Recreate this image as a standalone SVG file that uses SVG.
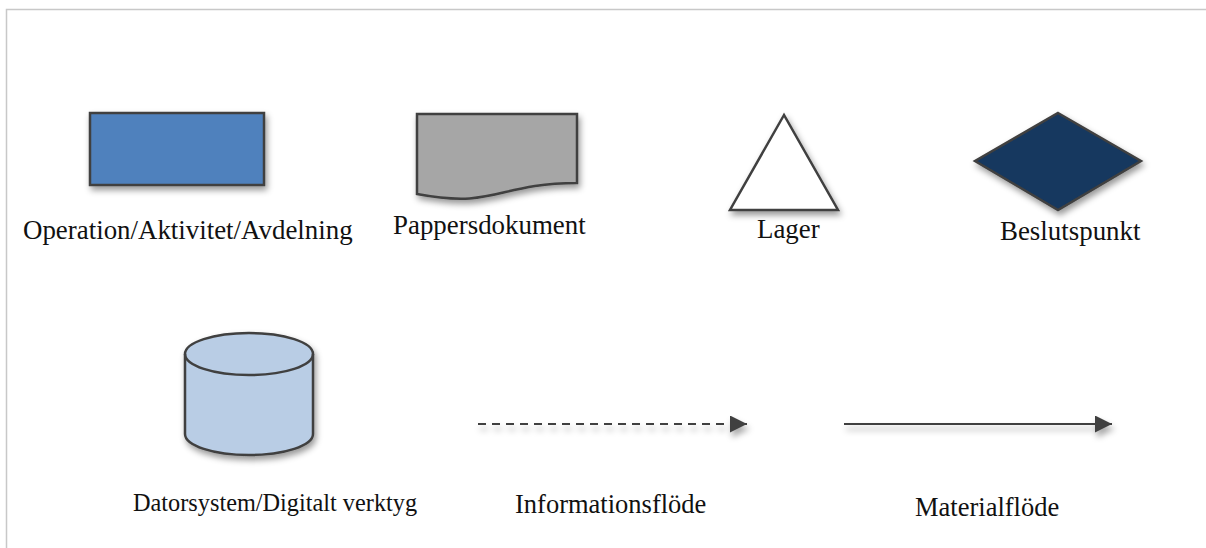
<svg xmlns="http://www.w3.org/2000/svg" width="1206" height="548" viewBox="0 0 1206 548">
  <style>
    .shape { stroke: #404040; stroke-width: 2.5; stroke-linejoin: miter; filter: url(#shadow); }
    .lbl { font-family: "Liberation Serif", "Times New Roman", serif; font-size: 26.9px; fill: #111; }
    .conn { stroke: #404040; stroke-width: 2; fill: none; }
  </style>
  <defs>
    <filter id="shadow" x="-20%" y="-20%" width="150%" height="160%">
      <feDropShadow dx="2" dy="4" stdDeviation="3" flood-color="#000" flood-opacity="0.4"/>
    </filter>
    <filter id="lineshadow" filterUnits="userSpaceOnUse" x="440" y="395" width="720" height="60">
      <feDropShadow dx="2" dy="5" stdDeviation="3" flood-color="#000" flood-opacity="0.35"/>
    </filter>
    <marker id="arrow" markerUnits="userSpaceOnUse" markerWidth="18" markerHeight="18" refX="17" refY="8.5" orient="auto">
      <path d="M0,0 L17,8.5 L0,17 Z" fill="#404040"/>
    </marker>
  </defs>
  <rect width="1206" height="548" fill="#ffffff"/>
  <g id="frame" stroke="#c8c8c8" stroke-width="1.5" fill="none">
    <path d="M6.5,548 V9.5 H1206"/>
  </g>

  <g id="operation">
    <rect class="shape" x="90" y="113" width="174" height="72" fill="#4f81bd"/>
    <text class="lbl" x="23" y="239">Operation/Aktivitet/Avdelning</text>
  </g>

  <g id="dokument">
    <path class="shape" d="M417,114 H577 V183 C497,183 497,209 417,194 Z" fill="#a6a6a6"/>
    <text class="lbl" x="393" y="234">Pappersdokument</text>
  </g>

  <g id="lager">
    <polygon class="shape" points="784,115 730,210 838,210" fill="#ffffff"/>
    <text class="lbl" x="757" y="238">Lager</text>
  </g>

  <g id="beslutspunkt">
    <polygon class="shape" points="1058,113 1141,161 1058,210 975,161" fill="#17375e"/>
    <text class="lbl" x="1000" y="240">Beslutspunkt</text>
  </g>

  <g id="datorsystem">
    <path class="shape" d="M185,354 V434 A64,21 0 0 0 313,434 V354 A64,21 0 0 0 185,354 Z" fill="#b9cde5"/>
    <path d="M185,354 A64,21 0 0 0 313,354" fill="none" stroke="#404040" stroke-width="2.5"/>
    <text class="lbl" x="133" y="511" style="font-size:24.3px">Datorsystem/Digitalt verktyg</text>
  </g>

  <g id="connectors" filter="url(#lineshadow)">
    <line class="conn" x1="478" y1="424" x2="747" y2="424" stroke-dasharray="8,6" marker-end="url(#arrow)"/>
    <line class="conn" x1="844" y1="424" x2="1112" y2="424" marker-end="url(#arrow)"/>
  </g>

  <g id="legend-labels">
    <text class="lbl" x="515" y="513" style="font-size:26.5px">Informationsflöde</text>
    <text class="lbl" x="915" y="516" style="font-size:26.5px">Materialflöde</text>
  </g>
</svg>
